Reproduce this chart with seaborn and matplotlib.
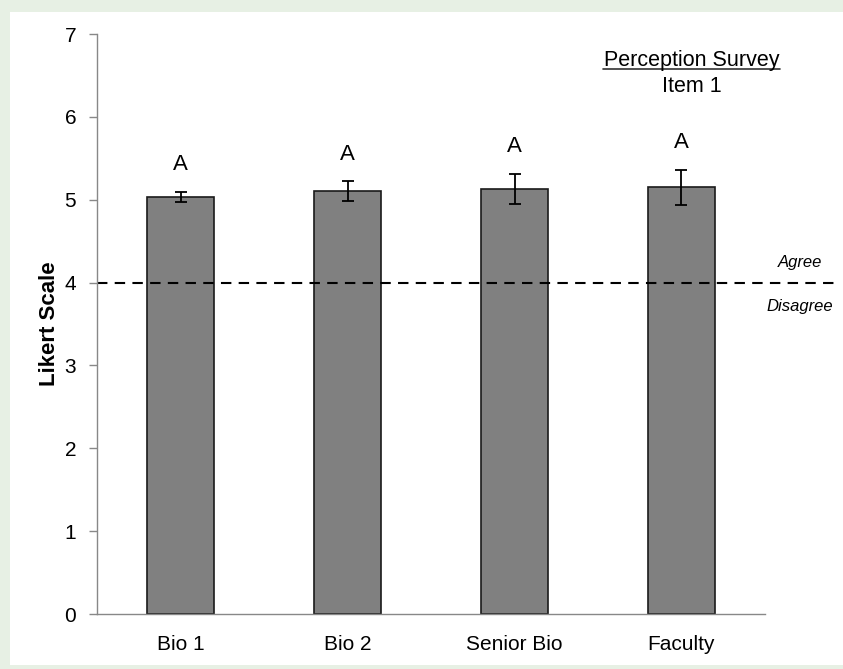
import matplotlib
matplotlib.use("Agg")
import matplotlib.pyplot as plt
from matplotlib.patches import Rectangle
import seaborn as sns
import pandas as pd

# Survey results: mean Likert score and standard error per group
groups = ["Bio 1", "Bio 2", "Senior Bio", "Faculty"]
means = [5.03, 5.10, 5.13, 5.15]
errors = [0.06, 0.12, 0.185, 0.21]
letters = ["A", "A", "A", "A"]

df = pd.DataFrame({"group": groups, "score": means})

sns.set_style("white")
plt.rcParams["font.family"] = ["Liberation Sans", "DejaVu Sans"]
plt.rcParams["text.color"] = "black"
plt.rcParams["axes.labelcolor"] = "black"
plt.rcParams["xtick.labelcolor"] = "black"
plt.rcParams["ytick.labelcolor"] = "black"

W, H = 843, 669
fig = plt.figure(figsize=(W / 100, H / 100), dpi=100, facecolor="#e7f0e4")
fig.patches.append(Rectangle((10 / W, 4 / H), 1 - 10 / W, (657 - 4) / H,
                             transform=fig.transFigure, facecolor="white",
                             edgecolor="none", zorder=-10))

ax = fig.add_axes([97 / W, 55 / H, (840 - 97) / W, (635 - 55) / H])
ax.set_facecolor("none")

sns.barplot(data=df, x="group", y="score", color="#808080", width=0.4,
            edgecolor="#1a1a1a", linewidth=1.2, saturation=1, errorbar=None, ax=ax)
ax.errorbar(range(len(groups)), means, yerr=errors, fmt="none",
            ecolor="black", elinewidth=1.3, capsize=4.5, capthick=1.3)

for i, (m, e, t) in enumerate(zip(means, errors, letters)):
    ax.text(i, m + e + 0.33, t, ha="center", va="center", fontsize=16)

# Neutral threshold between agree and disagree
ax.axhline(4, color="black", linestyle=(0, (5, 3.5)), linewidth=1.5, zorder=1)
ax.text(3.71, 4.245, "Agree", ha="center", va="center", fontsize=12, style="italic")
ax.text(3.71, 3.715, "Disagree", ha="center", va="center", fontsize=12, style="italic")

ax.text(3.06, 6.614, "Perception Survey", ha="center", va="baseline", fontsize=15.5)
ax.plot([2.53, 3.59], [6.574, 6.574], color="#333333", linewidth=1.2, clip_on=False)
ax.text(3.06, 6.303, "Item 1", ha="center", va="baseline", fontsize=15.5)

ax.set_ylim(0, 7)
ax.set_xlim(-0.5, 3.5 + (840 - 765) / 167)
ax.set_yticks(range(8))
ax.set_xticks([-0.5, 0.5, 1.5, 2.5, 3.5], minor=True)
ax.set_xticks(range(4))
ax.set_xticklabels(groups, fontsize=15)
ax.tick_params(axis="x", which="major", length=0, pad=15)
ax.tick_params(axis="x", which="minor", length=6, width=1, color="#888888", direction="out")
ax.tick_params(axis="y", length=6, width=1, color="#888888", direction="out",
               labelsize=15, pad=9, left=True)
ax.set_xlabel("")
ax.set_ylabel("Likert Scale", fontsize=16, fontweight="bold", labelpad=3)

for side in ("top", "right"):
    ax.spines[side].set_visible(False)
for side in ("left", "bottom"):
    ax.spines[side].set_color("#888888")
    ax.spines[side].set_linewidth(1)
ax.spines["bottom"].set_bounds(-0.5, 3.5)

fig.savefig("out.png", dpi=100, facecolor=fig.get_facecolor())
